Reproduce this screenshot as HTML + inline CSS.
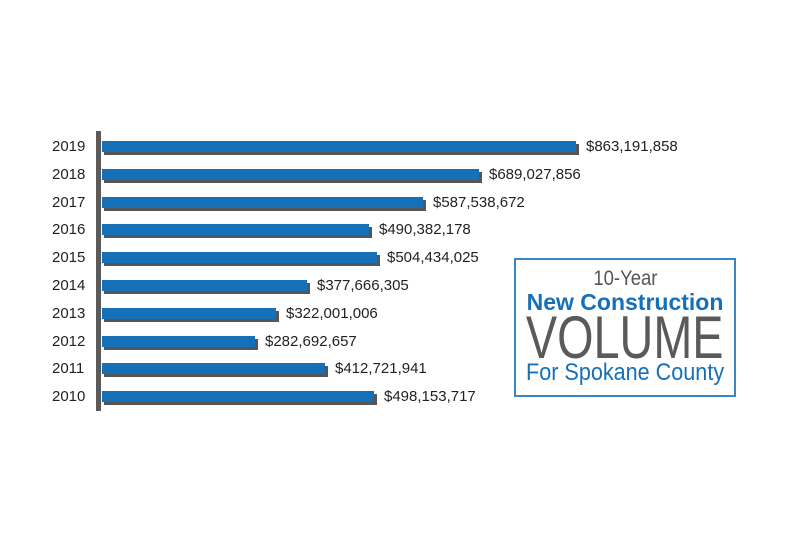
<!DOCTYPE html>
<html><head><style>
body{margin:0;background:#fff;width:791px;height:540px;position:relative;overflow:hidden;font-family:"Liberation Sans",sans-serif}
.y{position:absolute;left:52px;width:42px;text-align:left;font-size:15px;color:#222}
.sh{position:absolute;left:104px;height:11px;background:#555}
.b{position:absolute;left:102px;height:11px;background:#1570b8}
.v{position:absolute;font-size:15px;color:#222}
.l{position:absolute;left:-60px;right:-60px;text-align:center;white-space:nowrap}
.l span{display:inline-block}
</style></head><body>
<div style="position:absolute;left:96px;top:131px;width:5px;height:280px;background:#5a5a5a"></div>
<div id="c"></div>
<script>
var d=[[2019,576,"$863,191,858"],[2018,479,"$689,027,856"],[2017,423,"$587,538,672"],[2016,369,"$490,382,178"],[2015,377,"$504,434,025"],[2014,307,"$377,666,305"],[2013,276,"$322,001,006"],[2012,255,"$282,692,657"],[2011,325,"$412,721,941"],[2010,374,"$498,153,717"]];
var h="";d.forEach(function(r,i){var c=147+i*27.8;var t=c-6;
h+='<div class="sh" style="top:'+(t+3)+'px;width:'+(r[1]-101)+'px"></div>';
h+='<div class="b" style="top:'+t+'px;width:'+(r[1]-102)+'px"></div>';
h+='<div class="y" style="top:'+(c-9)+'px">'+r[0]+'</div>';
h+='<div class="v" style="left:'+(r[1]+10)+'px;top:'+(c-9)+'px">'+r[2]+'</div>';});
document.getElementById("c").innerHTML=h;
</script>
<div style="position:absolute;left:514px;top:258px;width:218px;height:135px;border:2px solid #3a86c0">
<div class="l" style="top:7px;font-size:21px;color:#555"><span style="transform:scaleX(.88)">10-Year</span></div>
<div class="l" style="top:29px;font-size:23px;font-weight:bold;color:#1570b8"><span style="transform:scaleX(1.0)">New Construction</span></div>
<div class="l" style="top:48px;font-size:60px;line-height:60px;color:#5a5a5a"><span style="transform:scaleX(.78)">VOLUME</span></div>
<div class="l" style="top:99px;font-size:24px;color:#1570b8"><span style="transform:scaleX(.9)">For Spokane County</span></div>
</div>
</body></html>
